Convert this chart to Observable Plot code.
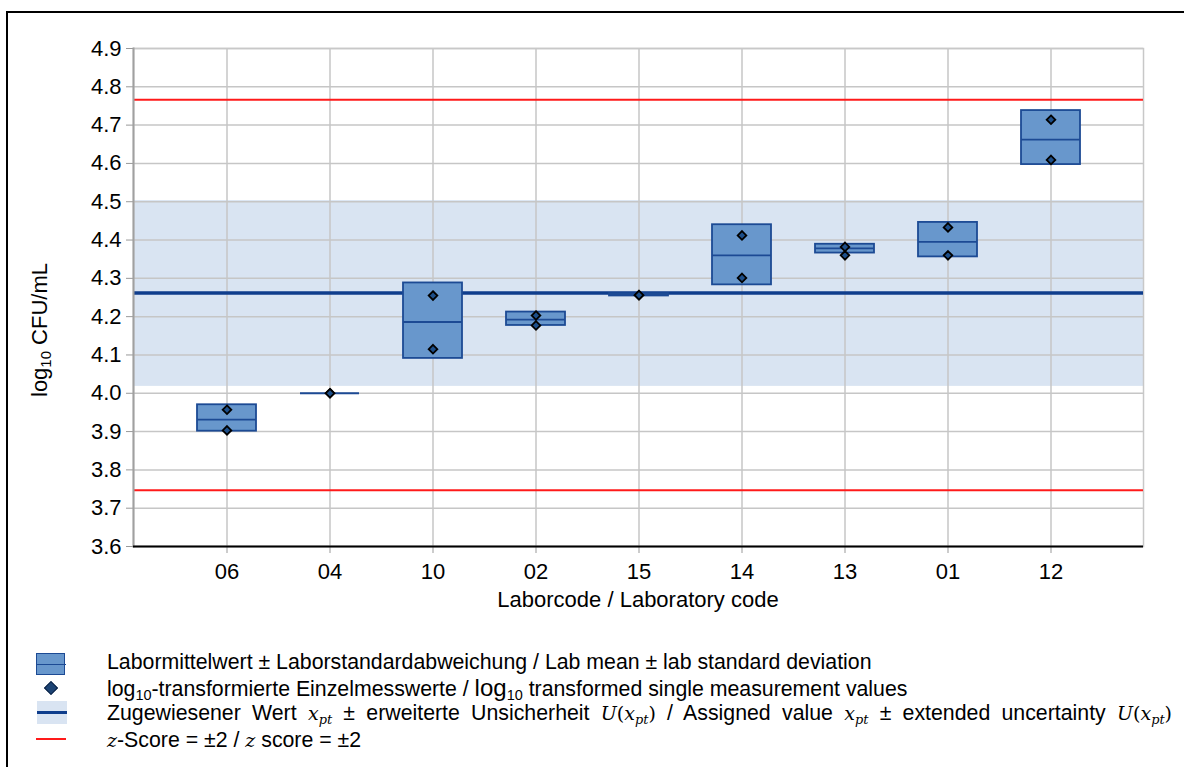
<!DOCTYPE html>
<html><head><meta charset="utf-8">
<script src="https://cdn.jsdelivr.net/npm/d3@7"></script>
<script src="https://cdn.jsdelivr.net/npm/@observablehq/plot@0.6"></script>
<style>
body{margin:0;background:#fff;font-family:"Liberation Sans",Arial,sans-serif;overflow:hidden;color:#000}
#wrap{position:relative;width:1184px;height:767px;overflow:hidden}
#frame{position:absolute;left:6px;top:11px;width:1300px;height:900px;border-left:2.5px solid #000;border-top:2.5px solid #000}
#chart{position:absolute;left:0;top:0}
.ylab{position:absolute;left:40px;top:330px;transform:translate(-50%,-50%) rotate(-90deg);font-size:22px;white-space:nowrap;line-height:24px}
.xlab{position:absolute;left:638px;top:600px;transform:translate(-50%,-50%);font-size:22px;white-space:nowrap;line-height:24px}
.row{position:absolute;left:107px;font-size:21.3px;line-height:24px;white-space:nowrap}
.just{width:1065px;text-align:justify;text-align-last:justify;white-space:normal}
.m{font-family:"DejaVu Serif","Liberation Serif",serif;font-style:italic;font-size:19px}
.mu{font-family:"DejaVu Serif","Liberation Serif",serif;font-size:19px}
sub{font-size:0.68em;line-height:0;vertical-align:-0.28em}
.sw{position:absolute}
</style>
</head><body>
<div id="wrap">
<div id="frame"></div>
<div id="chart"></div>
<div class="ylab">log<sub>10</sub> CFU/mL</div>
<div class="xlab">Laborcode / Laboratory code</div>

<div class="sw" style="left:36px;top:653px;width:27px;height:20px;background:#6897cc;border:1.5px solid #1c4a94"></div>
<div class="sw" style="left:36px;top:663.5px;width:30px;height:1.8px;background:#1c4a94"></div>
<div class="sw" style="left:46px;top:683px;width:8px;height:8px;background:#1d4474;border:1px solid #0c2244;transform:rotate(45deg)"></div>
<div class="sw" style="left:37px;top:701px;width:30px;height:23px;background:#d9e4f2"></div>
<div class="sw" style="left:37px;top:711px;width:30px;height:3px;background:#0e3d8c"></div>
<div class="sw" style="left:36px;top:738px;width:30px;height:2px;background:#ff1a1a"></div>

<div class="row" style="top:650px">Labormittelwert ± Laborstandardabweichung / Lab mean ± lab standard deviation</div>
<div class="row" style="top:676px">log<sub>10</sub>-transformierte Einzelmesswerte / <span style="font-size:24px">log</span><sub>10</sub> transformed single measurement values</div>
<div class="row just" style="top:701px">Zugewiesener Wert <span class="m">x<sub>pt</sub></span> ± erweiterte Unsicherheit <span class="m">U</span><span class="mu">(</span><span class="m">x<sub>pt</sub></span><span class="mu">)</span> / Assigned value <span class="m">x<sub>pt</sub></span> ± extended uncertainty <span class="m">U</span><span class="mu">(</span><span class="m">x<sub>pt</sub></span><span class="mu">)</span></div>
<div class="row" style="top:728px"><span class="m">z</span>-Score = ±2 / <span class="m">z</span> score = ±2</div>
</div>
<script>
// Laboratory codes (x categories)
const labs = ["06","04","10","02","15","14","13","01","12"];
// Lab mean ± lab standard deviation (box bottom / top) and lab mean
const boxLow  = [3.901, 4.000, 4.091, 4.177, 4.254, 4.283, 4.366, 4.356, 4.597];
const boxHigh = [3.970, 4.000, 4.288, 4.212, 4.260, 4.440, 4.389, 4.446, 4.738];
const labMean = [3.931, 4.000, 4.186, 4.192, 4.257, 4.360, 4.378, 4.395, 4.662];
// log10-transformed single measurement values
const value1 = [3.957, 4.000, 4.255, 4.203, 4.256, 4.412, 4.382, 4.433, 4.714];
const value2 = [3.903, 4.000, 4.115, 4.177, 4.256, 4.301, 4.360, 4.360, 4.609];
// Assigned value and extended uncertainty
const assignedValue = 4.262;
const assignedLow = 4.018;
const assignedHigh = 4.503;
// z-score = ±2 limits
const zLimits = [3.747, 4.766];
// Y tick values
const yTicks = [3.6,3.7,3.8,3.9,4.0,4.1,4.2,4.3,4.4,4.5,4.6,4.7,4.8,4.9];

const boxes = labs.map((lab,i)=>({lab, lo:boxLow[i], hi:boxHigh[i], mean:labMean[i]}));
const points = labs.flatMap((lab,i)=>[{lab, v:value1[i]}, {lab, v:value2[i]}]);
const band = [{lo:assignedLow, hi:assignedHigh}];

const chart = Plot.plot({
  width:1184, height:615,
  marginLeft:133, marginRight:41, marginTop:48, marginBottom:69,
  style:{fontFamily:"Liberation Sans, Arial, sans-serif", fontSize:"22px", background:"transparent", color:"#000"},
  x:{type:"band", domain:labs, paddingInner:0, paddingOuter:0.4},
  y:{domain:[3.6,4.9]},
  marks:[
    Plot.rect(band, {y1:"lo", y2:"hi", fill:"#d9e4f2"}),
    Plot.gridY(yTicks, {stroke:"#c6c6c6", strokeOpacity:1, strokeWidth:1.5}),
    Plot.gridX(labs, {stroke:"#c6c6c6", strokeOpacity:1, strokeWidth:1.5}),
    Plot.frame({stroke:"#c8c8c8", strokeWidth:1.5}),
    Plot.ruleY(zLimits, {stroke:"#ff1a1a", strokeWidth:2}),
    Plot.ruleY([assignedValue], {stroke:"#0e3d8c", strokeWidth:3.5}),
    Plot.barY(boxes, {x:"lab", y1:"lo", y2:"hi", fill:"#6897cc", stroke:"#1c4a94", strokeWidth:1.8, insetLeft:22, insetRight:22}),
    Plot.tickY(boxes, {x:"lab", y:"mean", stroke:"#1c4a94", strokeWidth:1.8, insetLeft:22, insetRight:22}),
    Plot.dot(points, {x:"lab", y:"v", symbol:"diamond2", r:3.9, fill:"#1d4f8a", stroke:"#000", strokeWidth:1.8}),
    Plot.axisY(yTicks, {tickFormat:d=>d.toFixed(1), tickSize:7, tickPadding:5, stroke:"#999", fill:"#000", fontSize:22, label:null}),
    Plot.axisX({tickSize:7, tickPadding:10, stroke:"#999", fill:"#000", fontSize:22, label:null}),
    Plot.frame({anchor:"left", stroke:"#a0a0a0", strokeWidth:2}),
    Plot.ruleY([3.6], {stroke:"#000", strokeWidth:2})
  ]
});
document.getElementById("chart").appendChild(chart);
</script>
</body></html>
